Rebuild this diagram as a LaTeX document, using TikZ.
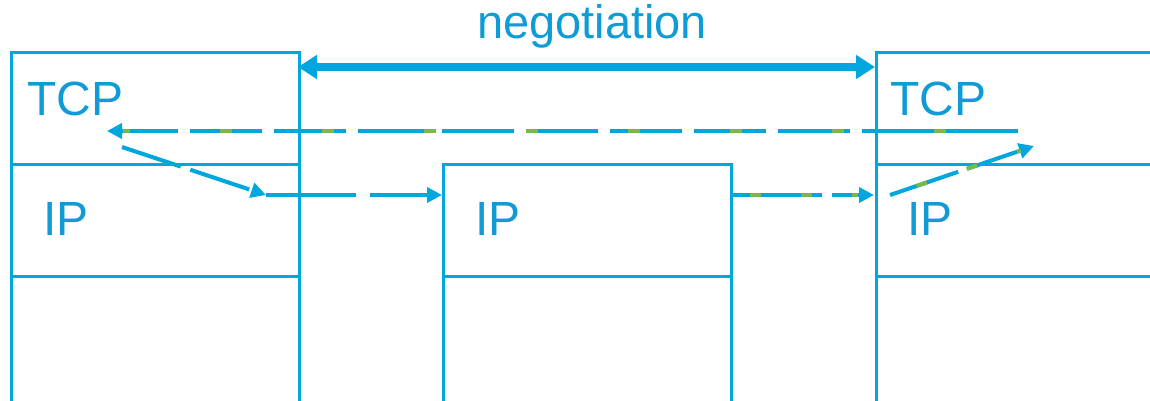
\documentclass[tikz,border=0pt]{standalone}
\usepackage{fontspec}
\setmainfont{Liberation Sans}
\usetikzlibrary{arrows.meta}
\definecolor{cblue}{RGB}{0,166,222}
\definecolor{ctext}{RGB}{14,155,214}
\definecolor{cgreen}{RGB}{122,184,72}
\begin{document}
\begin{tikzpicture}[x=1pt,y=-1pt,
  cell/.style={draw=cblue,line width=2.6pt,minimum width=288pt,inner sep=0pt,anchor=north west},
  lbl/.style={text=ctext,font=\fontsize{48}{56}\selectfont,inner sep=0pt,anchor=base west},
  dashbase/.style={draw=cblue,line width=4pt,dash pattern=on 72pt off 12pt,-{Triangle[length=15pt,width=15pt]}},
  greenover/.style={draw=cgreen,line width=4pt,dash pattern=on 12pt off 90pt},
  nego/.style={draw=cblue,line width=8pt,{Triangle[length=19pt,width=23pt]}-{Triangle[length=19pt,width=23pt]}}]
\useasboundingbox (0,0) rectangle (1150,401);
\begin{scope}
\clip (0,0) rectangle (1150,401);
% left stack
\node[cell,minimum height=112pt] (ltcp) at (10,51) {};
\node[cell,minimum height=112pt] (lip) at (10,163) {};
\node[cell,minimum height=150pt] (llow) at (10,275) {};
% middle stack
\node[cell,minimum height=112pt] (mip) at (442,163) {};
\node[cell,minimum height=150pt] (mlow) at (442,275) {};
% right stack
\node[cell,minimum height=112pt,minimum width=300pt] (rtcp) at (875,51) {};
\node[cell,minimum height=112pt,minimum width=300pt] (rip) at (875,163) {};
\node[cell,minimum height=150pt,minimum width=300pt] (rlow) at (875,275) {};
\end{scope}
% labels
\node[lbl,font=\fontsize{47}{56}\selectfont] (tneg) at (477,39) {negotiation};
\node[lbl] (tltcp) at (27,116) {TCP};
\node[lbl] (tlip) at (43,235) {IP};
\node[lbl] (tmip) at (475,235) {IP};
\node[lbl] (trtcp) at (890,116) {TCP};
\node[lbl] (trip) at (907,235) {IP};
% coordinates
\coordinate (n1) at (298,67);
\coordinate (n2) at (875,67);
\coordinate (t1) at (1018,131);
\coordinate (t2) at (107,131);
\coordinate (d1) at (122,147);
\coordinate (d2) at (266,195);
\coordinate (h1) at (266,195);
\coordinate (h2) at (442,195);
\coordinate (k1) at (730,195);
\coordinate (k2) at (874,195);
\coordinate (u1) at (890,195);
\coordinate (u2) at (1034,146);
% negotiation arrow
\draw[nego] (n1) -- (n2);
% dashed connectors
\draw[dashbase,dash phase=0pt] (t1) -- (t2);
\draw[greenover,dash phase=30pt,shorten >=16pt] (t1) -- (t2);
\draw[dashbase,dash pattern=on 62pt off 10pt] (d1) -- (d2);
\draw[dashbase,dash pattern=on 90pt off 14pt] (h1) -- (h2);
\draw[dashbase,dash pattern=on 92pt off 10pt] (k1) -- (k2);
\draw[greenover,dash pattern=on 11pt off 40pt,dash phase=-20pt,shorten >=16pt] (k1) -- (k2);
\draw[dashbase,dash pattern=on 72pt off 10pt] (u1) -- (u2);
\draw[greenover,dash pattern=on 11pt off 42pt,dash phase=-28pt,shorten >=14pt] (u1) -- (u2);
\end{tikzpicture}
\end{document}
